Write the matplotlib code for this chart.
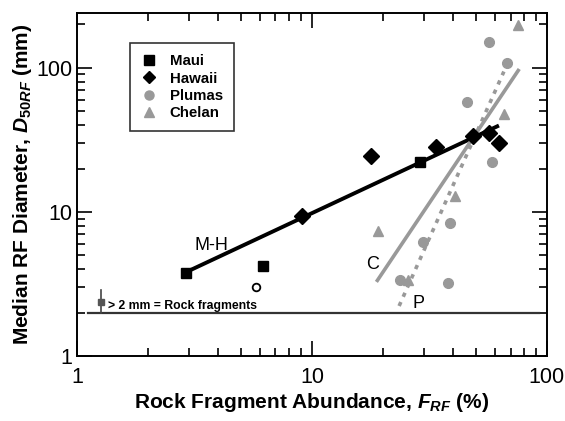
import numpy as np
import matplotlib.pyplot as plt
from matplotlib.ticker import LogLocator, NullFormatter, FixedLocator, FixedFormatter

plt.rcParams['font.family'] = ['Liberation Sans', 'DejaVu Sans']
plt.rcParams['mathtext.fontset'] = 'custom'
plt.rcParams['mathtext.it'] = 'Liberation Sans:italic:bold'
plt.rcParams['mathtext.rm'] = 'Liberation Sans:bold'

GRAY = '#999999'

# site data: rock fragment abundance (%) and median diameter (mm)
maui_f = [2.9, 6.2, 28.8]
maui_d = [3.8, 4.2, 22.2]
hawaii_f = [9.1, 17.8, 33.7, 48.3, 56.6, 62.5]
hawaii_d = [9.4, 24.6, 28.1, 33.7, 35.2, 30.0]
plumas_f = [23.7, 29.6, 37.8, 38.7, 45.8, 56.6, 58.5, 67.8]
plumas_d = [3.4, 6.2, 3.2, 8.4, 57.8, 152, 22.1, 108.8]
chelan_f = [19.2, 25.7, 40.6, 65.8, 75.5]
chelan_d = [7.4, 3.4, 12.9, 47.7, 199]
open_f = [5.8]
open_d = [3.0]

# power-law fits D = a * F^b, drawn between end abundances
mh_fit = (1.69, 0.764, 2.9, 62.5)
c_fit = (0.00262, 2.43, 19.0, 75.5)
p_fit = (2.22e-5, 3.648, 23.5, 65.6)

rf_limit = 2.0
marker_f = 1.27
marker_d = 2.37
marker_top = 2.87


def fit_line(a, b, f0, f1):
    f = np.array([f0, f1])
    return f, a * f ** b


fig = plt.figure(figsize=(5.65, 4.21), dpi=100)
ax = fig.add_axes([0.136, 0.154, 0.832, 0.815])
ax.set_xscale('log')
ax.set_yscale('log')
ax.set_xlim(1, 100)
ax.set_ylim(1, 240)

ax.plot([1.12, 92.5], [rf_limit, rf_limit], color='#333333', lw=1.6)
ax.plot([marker_f, marker_f], [rf_limit, marker_top], color='#444444', lw=1.2)
ax.plot(marker_f, marker_d, 's', color='#555555', ms=4.5)
ax.text(1.36, 2.03, '> 2 mm = Rock fragments', fontsize=8.8, fontweight='bold',
        va='bottom', ha='left')

f, d = fit_line(*mh_fit)
ax.plot(f, d, color='black', lw=2.8, solid_capstyle='butt')
f, d = fit_line(*c_fit)
ax.plot(f, d, color=GRAY, lw=2.6)
f, d = fit_line(*p_fit)
ax.plot(f, d, color=GRAY, lw=2.6, ls=(0, (1.2, 1.6)))

ax.plot(maui_f, maui_d, 's', color='black', ms=7, label='Maui')
ax.plot(hawaii_f, hawaii_d, 'D', color='black', ms=8.5, label='Hawaii')
ax.plot(plumas_f, plumas_d, 'o', color=GRAY, ms=7, label='Plumas')
ax.plot(chelan_f, chelan_d, '^', color=GRAY, ms=7, label='Chelan')
ax.plot(open_f, open_d, 'o', mfc='white', mec='black', mew=1.3, ms=5.5)

ax.text(3.74, 5.9, 'M-H', fontsize=13, ha='center', va='center')
ax.text(18.1, 4.29, 'C', fontsize=13, ha='center', va='center')
ax.text(28.3, 2.33, 'P', fontsize=13, ha='center', va='center')

leg = ax.legend(loc='upper left', bbox_to_anchor=(0.113, 0.9125), frameon=True,
                fancybox=False, edgecolor='black', handlelength=1.0,
                handletextpad=0.9, borderpad=0.75, labelspacing=0.22,
                borderaxespad=0, prop={'weight': 'bold', 'size': 10.8})
leg.get_frame().set_linewidth(1.2)
for h in leg.legend_handles:
    h.set_markersize(6.5)

ax.xaxis.set_major_locator(FixedLocator([1, 10, 100]))
ax.xaxis.set_major_formatter(FixedFormatter(['1', '10', '100']))
ax.yaxis.set_major_locator(FixedLocator([1, 10, 100]))
ax.yaxis.set_major_formatter(FixedFormatter(['1', '10', '100']))
ax.xaxis.set_minor_locator(LogLocator(base=10, subs=np.arange(2, 10)))
ax.yaxis.set_minor_locator(LogLocator(base=10, subs=np.arange(2, 10)))
ax.xaxis.set_minor_formatter(NullFormatter())
ax.yaxis.set_minor_formatter(NullFormatter())
ax.tick_params(which='both', direction='in', top=True, right=True,
               labelsize=15.5, width=1.2)
ax.tick_params(which='major', length=11, pad=3)
ax.tick_params(axis='x', which='major', pad=8)
ax.tick_params(which='minor', length=6)
for s in ax.spines.values():
    s.set_linewidth(1.4)

ax.set_xlabel(r'Rock Fragment Abundance, $\mathit{F}_{\mathit{RF}}$ (%)',
              fontsize=15, fontweight='bold', labelpad=2)
ax.set_ylabel(r'Median RF Diameter, $\mathit{D}_{\mathit{50RF}}$ (mm)',
              fontsize=15, fontweight='bold', labelpad=2)

fig.savefig('out.png', dpi=100)
